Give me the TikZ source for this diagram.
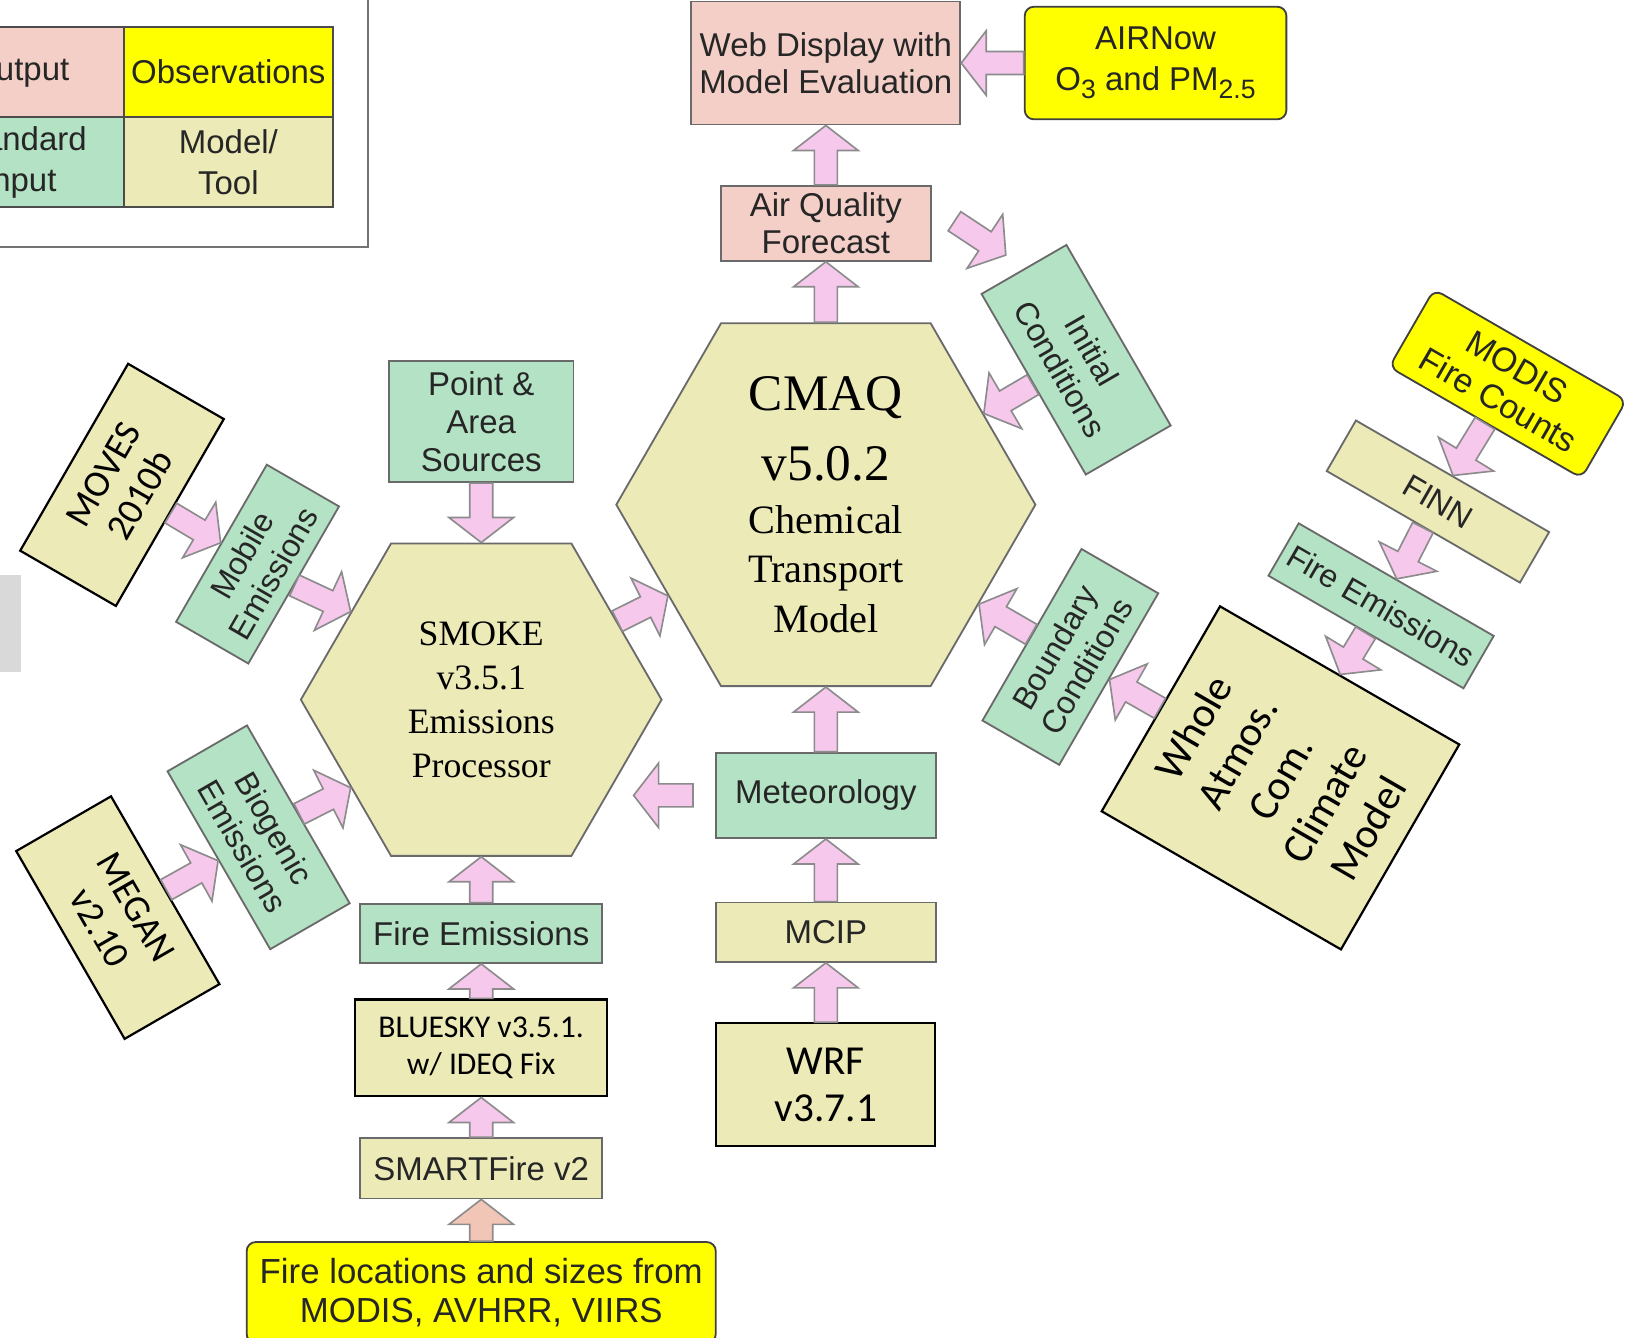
\documentclass[tikz,border=0pt]{standalone}
\usepackage{fontspec}
\setsansfont{Liberation Sans}
\newfontfamily\calibri{Carlito}
\newfontfamily\hexserif{Liberation Serif}
\usepackage{tikz}
\usetikzlibrary{positioning,calc,shapes.geometric}
\definecolor{outPink}{HTML}{F4CFC7}
\definecolor{inGreen}{HTML}{B4E2C4}
\definecolor{toolKhaki}{HTML}{ECEAB7}
\definecolor{obsYellow}{HTML}{FFFF00}
\definecolor{arrowPink}{HTML}{F6C8EC}
\definecolor{arrowPeach}{HTML}{F2C6B6}
\definecolor{boxLine}{HTML}{6A6A6A}
\newcommand{\boxfont}{\sffamily\fontsize{18}{20.5}\selectfont}
\newcommand{\legfont}{\sffamily\fontsize{18}{22.5}\selectfont}
\newcommand{\tiltfont}{\sffamily\fontsize{17.5}{20}\selectfont}
\newcommand{\calsmall}{\calibri\fontsize{17.3}{20.5}\selectfont}
\newcommand{\calmid}{\calibri\fontsize{20.5}{23}\selectfont}
\newcommand{\calbig}{\calibri\fontsize{22.5}{26}\selectfont}
\newcommand{\calwhole}{\calibri\fontsize{23}{27.5}\selectfont}
\newcommand{\hexfont}{\hexserif\fontsize{19.5}{24}\selectfont}
\newcommand{\cmaqfont}{\hexserif\fontsize{22}{27}\selectfont}
\newcommand{\cmaqbig}{\fontsize{28}{30}\selectfont}
\newcommand{\lowsub}[1]{\raisebox{-0.45ex}{\fontsize{14.5}{15}\selectfont #1}}
\def\headlen{0.48cm}
\def\shafthw{0.22cm}
\def\headhw{0.62cm}
\tikzset{
  basebox/.style={
    rectangle, draw=boxLine, line width=1pt,
    align=center, inner sep=1pt, font=\boxfont, text=black!85
  },
  outbox/.style ={basebox, fill=outPink},
  inbox/.style  ={basebox, fill=inGreen},
  toolbox/.style={basebox, fill=toolKhaki},
  obsbox/.style ={basebox, fill=obsYellow, draw=black!75, rounded corners=5pt},
  newbox/.style ={basebox, fill=toolKhaki, draw=black, line width=1.2pt, text=black},
  hexa/.style={
    regular polygon, regular polygon sides=6, draw=boxLine, line width=1pt,
    fill=toolKhaki, inner sep=0pt, align=center, text=black
  },
  legcell/.style={minimum width=4cm, minimum height=1.73cm, font=\legfont, draw=black!70},
  legframe/.style={draw=black!55, line width=1.2pt},
  pinkarrow/.style={draw=black!45, line width=0.9pt, fill=arrowPink, line join=miter}
}
% block arrow from #2 to #3
\newcommand{\fatarrow}[3][]{%
  \coordinate (fa1) at #2;
  \coordinate (fa2) at #3;
  \coordinate (fah) at ($(fa2)!\headlen!(fa1)$);
  \draw[pinkarrow,#1] ($(fa1)!\shafthw!90:(fa2)$) -- ($(fah)!\shafthw!90:(fa2)$)
    -- ($(fah)!\headhw!90:(fa2)$) -- (fa2) -- ($(fah)!\headhw!-90:(fa2)$)
    -- ($(fah)!\shafthw!-90:(fa2)$) -- ($(fa1)!\shafthw!-90:(fa2)$) -- cycle;
}

\begin{document}
\begin{tikzpicture}[x=0.02cm, y=-0.02cm, node distance=1.2cm]
  \useasboundingbox (0,0) rectangle (1568,1283);
  \clip (0,0) rectangle (1568,1283);

  % legend
  \draw[legframe] (-60,-60) rectangle (353,237);
  \node[outbox, legcell]                     (legout)  at (19,69)    {Output};
  \node[obsbox, legcell, rounded corners=0pt] (legobs)  at (219,69)   {Observations};
  \node[inbox, legcell]                      (legin)   at (19,155.5) {Standard\\Input};
  \node[toolbox, legcell]                    (legtool) at (219,155.5) {Model/\\Tool};
  \fill[black!15] (0,551) rectangle (20,644);

  % CMAQ column
  \node[hexa, minimum size=8.04cm, font=\cmaqfont] (cmaq) at (792,484)
       {{\cmaqbig CMAQ}\\[11pt]{\cmaqbig v5.0.2}\\[2pt]Chemical\\Transport\\Model};
  \node[outbox, above=1.16cm of cmaq, minimum width=4.02cm, minimum height=1.44cm] (aqf) {Air Quality\\Forecast};
  \node[outbox, above=1.14cm of aqf, minimum width=5.16cm, minimum height=2.36cm]  (web) {Web Display with\\Model Evaluation};
  \node[obsbox, right=1.2cm of web, minimum width=5.02cm, minimum height=2.16cm]   (airnow) {AIRNow\\[2pt]O\lowsub{3} and PM\lowsub{2.5}};
  \node[inbox, below=1.24cm of cmaq, minimum width=4.22cm, minimum height=1.64cm]  (met) {Meteorology};
  \node[toolbox, below=1.2cm of met, minimum width=4.22cm, minimum height=1.14cm]  (mcip) {MCIP};
  \node[newbox, below=1.14cm of mcip, minimum width=4.2cm, minimum height=2.36cm, font=\calbig] (wrf) {WRF\\v3.7.1};

  % SMOKE column
  \node[hexa, minimum size=6.92cm, font=\hexfont] (smoke) at (461.5,671) {SMOKE\\v3.5.1\\Emissions\\Processor};
  \node[inbox, above=1.14cm of smoke, minimum width=3.54cm, minimum height=2.32cm]   (pas) {Point \&\\Area\\Sources};
  \node[inbox, below=0.88cm of smoke, minimum width=4.64cm, minimum height=1.14cm]   (fireL) {Fire Emissions};
  \node[newbox, below=0.66cm of fireL, minimum width=4.84cm, minimum height=1.86cm, font=\calsmall] (bluesky) {BLUESKY v3.5.1.\\w/ IDEQ Fix};
  \node[toolbox, below=0.76cm of bluesky, minimum width=4.64cm, minimum height=1.16cm] (smart) {SMARTFire v2};
  \node[obsbox, below=0.8cm of smart, minimum width=9cm, minimum height=1.94cm, font=\sffamily\fontsize{19}{21.5}\selectfont] (fireloc) {Fire locations and sizes from\\MODIS, AVHRR, VIIRS};

  % tilted inputs, left side
  \node[newbox, rotate=60, minimum width=4.14cm, minimum height=2.12cm, font=\calmid]   (moves)  at (117,465) {MOVES\\2010b};
  \node[inbox, rotate=60, minimum width=3.48cm, minimum height=1.6cm, font=\tiltfont]   (mobile) at (247,541) {Mobile\\Emissions};
  \node[newbox, rotate=-60, minimum width=4.16cm, minimum height=2.1cm, font=\calmid]   (megan)  at (113,880) {MEGAN\\v2.10};
  \node[inbox, rotate=-60, minimum width=3.94cm, minimum height=1.76cm, font=\tiltfont] (bio)    at (248,803) {Biogenic\\Emissions};

  % tilted inputs, right side
  \node[inbox, rotate=-60, minimum width=4cm, minimum height=1.88cm, font=\tiltfont]   (ic)    at (1032,345) {Initial\\Conditions};
  \node[inbox, rotate=60, minimum width=3.8cm, minimum height=1.7cm, font=\tiltfont]   (bc)    at (1026.5,630) {Boundary\\Conditions};
  \node[newbox, rotate=60, minimum width=4.54cm, minimum height=5.3cm, font=\calwhole] (whole) at (1228,746) {Whole\\Atmos.\\Com.\\Climate\\Model};
  \node[obsbox, rotate=-30, minimum width=4.26cm, minimum height=1.72cm, font=\sffamily\fontsize{18.5}{20.5}\selectfont] (modis) at (1446,368) {MODIS\\Fire Counts};
  \node[toolbox, rotate=-30, minimum width=4.28cm, minimum height=1.12cm, font=\tiltfont] (finn)  at (1379,481) {FINN};
  \node[inbox, rotate=-30, minimum width=4.32cm, minimum height=1.16cm, font=\tiltfont]   (fireR) at (1324.5,581) {Fire Emissions};

  % arrows, CMAQ column
  \fatarrow{(airnow.west)}{(web.east)}
  \fatarrow{(aqf.north)}{(web.south)}
  \fatarrow{(cmaq.north)}{(aqf.south)}
  \fatarrow{(met.north)}{(cmaq.south)}
  \fatarrow{(mcip.north)}{(met.south)}
  \fatarrow{(wrf.north)}{(mcip.south)}
  \fatarrow{($(met.west)+(-21,0)$)}{($(met.west)+(-78,0)$)}
  \fatarrow{($(aqf.east)+(22,-2)$)}{($(ic.west)+(-17,-13)$)}
  \fatarrow{(ic.south)}{(cmaq.30)}
  \fatarrow{(bc.north)}{(cmaq.-33)}
  \fatarrow{(whole.north)}{(bc.south)}

  % arrows, SMOKE column
  \fatarrow{(pas.south)}{(smoke.north)}
  \fatarrow{(fireL.north)}{(smoke.south)}
  \fatarrow{(bluesky.north -| fireL.south)}{(fireL.south)}
  \fatarrow{(smart.north)}{(smart.north |- bluesky.south)}
  \fatarrow[fill=arrowPeach]{(fireloc.north)}{(smart.south)}
  \fatarrow{(smoke.30)}{(cmaq.210)}

  % arrows, tilted boxes
  \fatarrow{(moves.south)}{(mobile.north)}
  \fatarrow{(mobile.south)}{(smoke.146)}
  \fatarrow{(megan.north)}{(bio.south)}
  \fatarrow{(bio.north)}{(smoke.214)}
  \fatarrow{(modis.south)}{(finn.north)}
  \fatarrow{(finn.south)}{(fireR.north)}
  \fatarrow{(fireR.south)}{(whole.east)}
\end{tikzpicture}
\end{document}
